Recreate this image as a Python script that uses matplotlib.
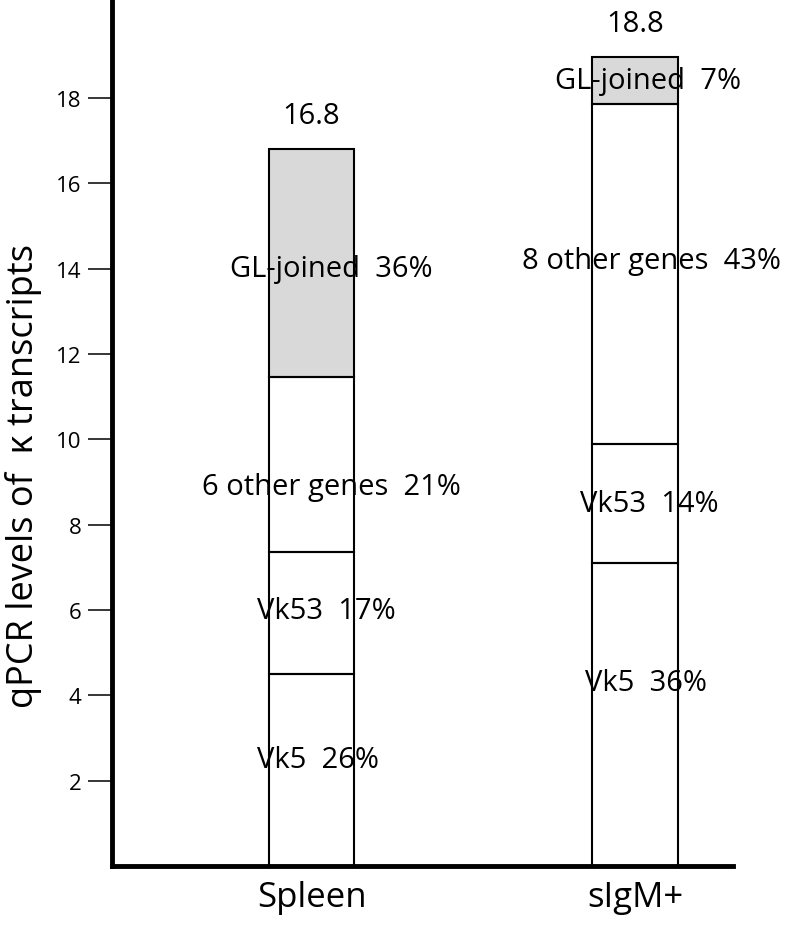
import numpy as np
import matplotlib
matplotlib.use('Agg')
import matplotlib.pyplot as plt

plt.rcParams['font.family'] = ['Open Sans', 'DejaVu Sans']

# data
groups = ['Spleen', 'sIgM+']
totals = ['16.8', '18.8']
# stacked segments (bottom -> top)
spleen_seg = [4.5, 2.85, 4.1, 5.35]
sigm_seg = [7.1, 2.8, 7.95, 1.1]
spleen_fill = ['white', 'white', 'white', '#d9d9d9']
sigm_fill = ['white', 'white', 'white', '#d9d9d9']
spleen_lbl = ['Vk5  26%', 'Vk53  17%', '6 other genes  21%', 'GL-joined  36%']
sigm_lbl = ['Vk5  36%', 'Vk53  14%', '8 other genes  43%', 'GL-joined  7%']
spleen_lbl_y = [2.5, 6.0, 8.9, 14.0]
sigm_lbl_y = [4.3, 8.5, 14.2, 18.4]
spleen_lbl_x = [0.02, 0.045, 0.06, 0.06]
sigm_lbl_x = [1.035, 1.045, 1.05, 1.04]

fig = plt.figure(figsize=(7.89, 9.28), dpi=100)
ax = fig.add_axes([0.142, 0.0657, 0.787, 0.932])

w = 0.263
for i, (segs, fills) in enumerate([(spleen_seg, spleen_fill), (sigm_seg, sigm_fill)]):
    bottom = 0
    for s, c in zip(segs, fills):
        # fill below text, edges above text
        ax.bar(i, s, width=w, bottom=bottom, color=c, edgecolor='none', zorder=1)
        ax.bar(i, s, width=w, bottom=bottom, color='none', edgecolor='black',
               linewidth=1.5, zorder=3)
        bottom += s
    ax.text(i, bottom + 0.8, totals[i], ha='center', va='center', fontsize=21, zorder=4)

for lbls, ys, xs in [(spleen_lbl, spleen_lbl_y, spleen_lbl_x), (sigm_lbl, sigm_lbl_y, sigm_lbl_x)]:
    for t, y, x in zip(lbls, ys, xs):
        ax.text(x, y, t, ha='center', va='center', fontsize=21, zorder=2)

ax.set_xlim(-0.617, 1.303)
ax.set_ylim(0, 20.27)
ax.set_xticks([0, 1])
ax.set_xticklabels(groups, fontsize=25)
ax.tick_params(axis='x', length=0, pad=10)
ax.set_yticks([2, 4, 6, 8, 10, 12, 14, 16, 18])
ax.tick_params(axis='y', length=17, width=1.1, pad=5, labelsize=16)
ax.set_ylabel('qPCR levels of  \u03ba transcripts', fontsize=26)
ax.yaxis.set_label_coords(-0.112, 0.452)

for sp in ['top', 'right']:
    ax.spines[sp].set_visible(False)
for sp in ['left', 'bottom']:
    ax.spines[sp].set_linewidth(3.5)

plt.savefig('out.png', dpi=100)
